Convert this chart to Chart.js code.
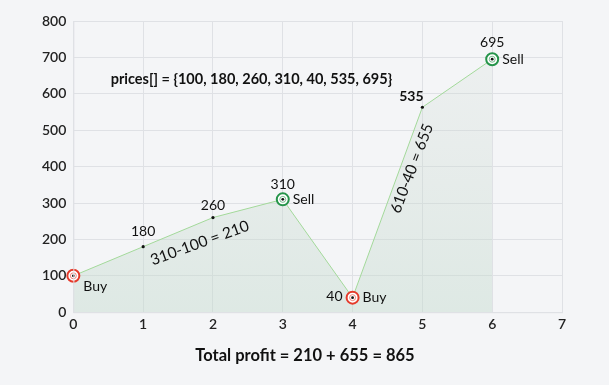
<!DOCTYPE html>
<html>
<head>
<meta charset="utf-8">
<script src="https://cdn.jsdelivr.net/npm/chart.js@4.4.0/dist/chart.umd.min.js"></script>
<style>
  html, body { margin: 0; background: #f4f5f7; }
  #wrap { width: 609px; height: 385px; }
</style>
</head>
<body>
<div id="wrap"><canvas id="chart"></canvas></div>
<script>
const days = [0, 1, 2, 3, 4, 5, 6];
const prices = [100, 180, 260, 310, 40, 563, 695];
const priceLabels = ['', '180', '260', '310', '40', '535', '695'];
const actions = ['Buy', '', '', 'Sell', 'Buy', '', 'Sell'];
const pricesText = 'prices[] = {100, 180, 260, 310, 40, 535, 695}';
const profitNotes = ['310-100 = 210', '610-40 = 655'];
const totalText = 'Total profit = 210 + 655 = 865';

const FONT = 'Lato, "Noto Sans", sans-serif';

const annotate = {
  id: 'annotate',
  afterDatasetsDraw(chart) {
    const { ctx, scales: { x, y } } = chart;
    const px = i => x.getPixelForValue(days[i]);
    const py = i => y.getPixelForValue(prices[i]);
    ctx.save();
    ctx.fillStyle = '#111';
    ctx.textBaseline = 'middle';

    days.forEach((d, i) => {
      const cx = px(i), cy = py(i);
      const act = actions[i];
      if (act) {
        const col = act === 'Buy' ? '#e53a2b' : '#25944a';
        ctx.beginPath(); ctx.arc(cx, cy, 6, 0, Math.PI * 2);
        ctx.fillStyle = '#fff'; ctx.fill();
        ctx.lineWidth = 2; ctx.strokeStyle = col; ctx.stroke();
        ctx.beginPath(); ctx.arc(cx, cy, 3, 0, Math.PI * 2);
        ctx.lineWidth = 1; ctx.strokeStyle = col; ctx.globalAlpha = 0.6; ctx.stroke();
        ctx.globalAlpha = 1;
        ctx.beginPath(); ctx.arc(cx, cy, 1.4, 0, Math.PI * 2);
        ctx.fillStyle = '#111'; ctx.fill();
      } else {
        ctx.beginPath(); ctx.arc(cx, cy, 1.6, 0, Math.PI * 2);
        ctx.fillStyle = '#111'; ctx.fill();
      }
    });

    ctx.fillStyle = '#111';
    ctx.font = '14px ' + FONT;
    // action text
    days.forEach((d, i) => {
      const act = actions[i];
      if (!act) return;
      ctx.textAlign = 'left';
      if (i === 0) ctx.fillText(act, px(i) + 10, py(i) + 11);
      else ctx.fillText(act, px(i) + 10, py(i));
    });
    // price labels
    days.forEach((d, i) => {
      const t = priceLabels[i];
      if (!t) return;
      ctx.font = (i === 5 ? 'bold ' : '') + '14px ' + FONT;
      if (i === 4) { ctx.textAlign = 'right'; ctx.fillText(t, px(i) - 10, py(i) - 1); return; }
      ctx.textAlign = 'center';
      const dx = i === 5 ? -11 : 0;
      const dy = i === 6 ? -17 : i === 2 ? -12 : i === 5 ? -11 : -15;
      ctx.fillText(t, px(i) + dx, py(i) + dy);
    });

    // prices array text
    ctx.font = 'bold 14.5px ' + FONT;
    ctx.textAlign = 'center';
    ctx.fillText(pricesText, x.getPixelForValue(2.55), y.getPixelForValue(640));

    // rotated profit notes
    ctx.font = '15.5px ' + FONT;
    ctx.save();
    ctx.translate(x.getPixelForValue(1.81), y.getPixelForValue(190));
    ctx.rotate(-20 * Math.PI / 180);
    ctx.fillText(profitNotes[0], 0, 0);
    ctx.restore();
    ctx.save();
    ctx.translate(x.getPixelForValue(4.85), y.getPixelForValue(395));
    ctx.rotate(-69 * Math.PI / 180);
    ctx.fillText(profitNotes[1], 0, 0);
    ctx.restore();

    // total
    ctx.font = 'bold 16.5px ' + FONT;
    ctx.fillText(totalText, 305, 356);
    ctx.restore();
  }
};

new Chart(document.getElementById('chart'), {
  type: 'line',
  data: {
    datasets: [{
      data: days.map((d, i) => ({ x: d, y: prices[i] })),
      borderColor: '#a3d99a',
      borderWidth: 1,
      pointRadius: 0,
      tension: 0,
      fill: 'origin',
      backgroundColor(c) {
        const a = c.chart.chartArea;
        if (!a) return 'rgba(190,215,200,0.3)';
        const g = c.chart.ctx.createLinearGradient(0, a.top, 0, a.bottom);
        g.addColorStop(0, 'rgba(205,215,208,0.15)');
        g.addColorStop(1, 'rgba(195,218,205,0.45)');
        return g;
      }
    }]
  },
  options: {
    responsive: true,
    maintainAspectRatio: false,
    animation: false,
    layout: { padding: { top: 21, right: 47, bottom: 48, left: 35 } },
    plugins: { legend: { display: false }, tooltip: { enabled: false } },
    scales: {
      x: {
        type: 'linear', min: 0, max: 7,
        ticks: { stepSize: 1, color: '#222', font: { family: FONT, size: 14, weight: '600' }, padding: 4 },
        grid: { color: '#dfe1e5', drawTicks: false },
        border: { color: '#dfe1e5' }
      },
      y: {
        min: 0, max: 800,
        ticks: { stepSize: 100, color: '#222', font: { family: FONT, size: 14, weight: '600' }, padding: 7 },
        grid: { color: '#dfe1e5', drawTicks: false },
        border: { color: '#dfe1e5' }
      }
    }
  },
  plugins: [annotate, {
    id: 'frame',
    beforeDraw(chart) {
      const { ctx } = chart;
      ctx.save();
      ctx.fillStyle = '#f4f5f7';
      ctx.fillRect(0, 0, chart.width, chart.height);
      ctx.restore();
    },
    afterDraw(chart) {
      const { ctx, chartArea: a } = chart;
      ctx.save();
      ctx.strokeStyle = '#dfe1e5';
      ctx.lineWidth = 1;
      ctx.strokeRect(a.left + 0.5, a.top + 0.5, a.right - a.left, a.bottom - a.top);
      ctx.restore();
    }
  }]
});
</script>
</body>
</html>
